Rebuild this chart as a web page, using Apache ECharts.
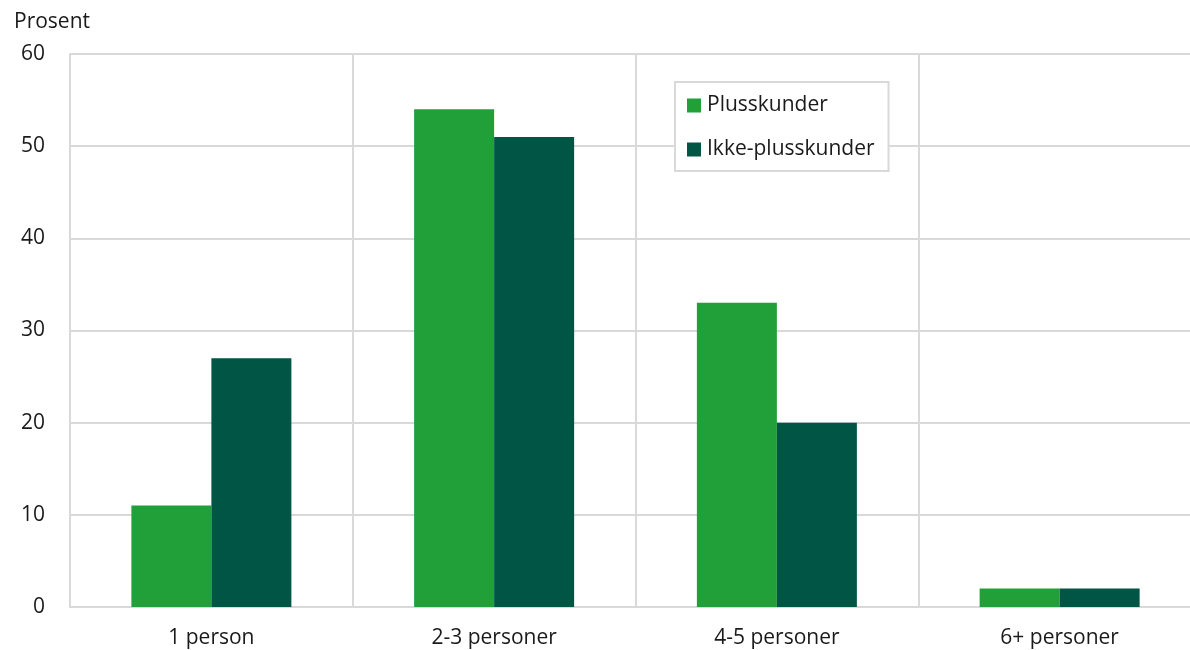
<!DOCTYPE html>
<html>
<head>
<meta charset="utf-8">
<script src="https://cdn.jsdelivr.net/npm/echarts@6/dist/echarts.min.js"></script>
<style>
  html, body { margin: 0; padding: 0; background: #ffffff; }
  #chart { width: 1190px; height: 650px; }
</style>
</head>
<body>
<div id="chart"></div>
<script>
// Husholdningsstørrelse, andel i prosent
const categories = ['1 person', '2-3 personer', '4-5 personer', '6+ personer'];
const plusskunder = [11, 54, 33, 2];
const ikkePlusskunder = [27, 51, 20, 2];
const yTicks = { min: 0, max: 60, interval: 10 };

const FONT = '"Open Sans", "Noto Sans", sans-serif';
const GRID = '#d9d9d9';
const TEXT = '#1a1a1a';
const FS = 21;

const chart = echarts.init(document.getElementById('chart'), null, { renderer: 'canvas' });

chart.setOption({
  animation: false,
  backgroundColor: '#ffffff',
  textStyle: { fontFamily: FONT },
  title: {
    text: 'Prosent',
    left: 9,
    top: 7,
    textStyle: { fontFamily: FONT, fontSize: FS, fontWeight: 'normal', color: TEXT }
  },
  legend: {
    orient: 'vertical',
    left: 675,
    top: 82,
    padding: [13, 14, 11, 12],
    itemGap: 23,
    itemWidth: 14,
    itemHeight: 14,
    icon: 'rect',
    borderColor: GRID,
    borderWidth: 2,
    backgroundColor: '#ffffff',
    textStyle: { fontFamily: FONT, fontSize: FS, color: TEXT, padding: [0, 0, 0, 1] },
    data: ['Plusskunder', 'Ikke-plusskunder']
  },
  // the plot runs a little past the right edge of the canvas
  grid: { left: 70, right: -11, top: 54, bottom: 43, containLabel: false, outerBoundsMode: 'none' },
  xAxis: {
    type: 'category',
    data: categories,
    axisLine: { show: true, lineStyle: { color: GRID, width: 2 } },
    axisTick: { show: false },
    axisLabel: { fontFamily: FONT, fontSize: FS, color: TEXT, margin: 21 },
    splitLine: { show: true, interval: 0, lineStyle: { color: GRID, width: 2 } }
  },
  yAxis: {
    type: 'value',
    min: yTicks.min,
    max: yTicks.max,
    interval: yTicks.interval,
    axisLine: { show: true, lineStyle: { color: GRID, width: 2 } },
    axisTick: { show: false },
    axisLabel: { fontFamily: FONT, fontSize: FS, color: TEXT, margin: 25 },
    splitLine: { show: true, lineStyle: { color: GRID, width: 2 } }
  },
  series: [
    {
      name: 'Plusskunder',
      type: 'bar',
      data: plusskunder,
      barWidth: 80,
      barGap: '0%',
      itemStyle: { color: '#21a03a' }
    },
    {
      name: 'Ikke-plusskunder',
      type: 'bar',
      data: ikkePlusskunder,
      barWidth: 80,
      barGap: '0%',
      itemStyle: { color: '#005545' }
    }
  ]
});
</script>
</body>
</html>
